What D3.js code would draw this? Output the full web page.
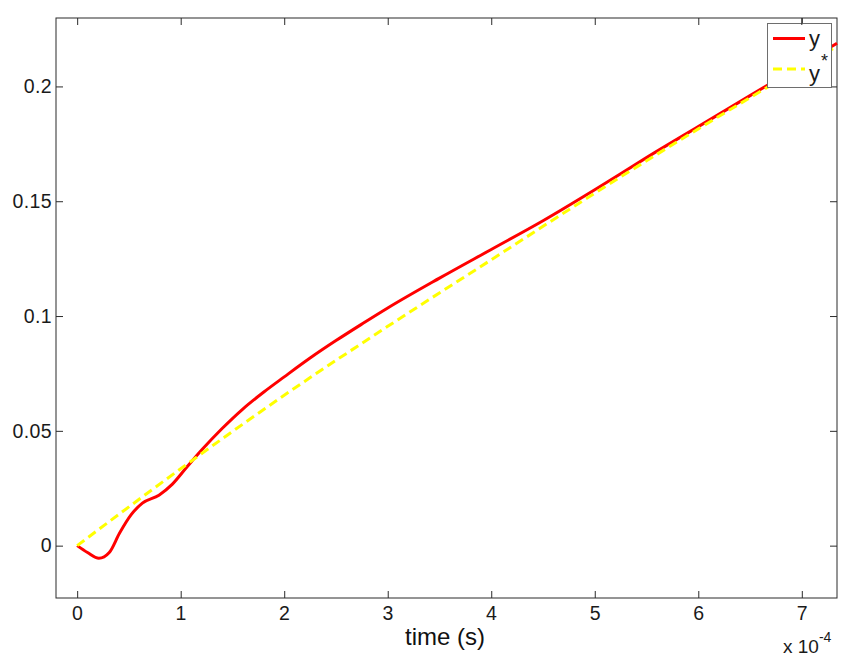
<!DOCTYPE html>
<html><head><meta charset="utf-8">
<script src="https://cdn.jsdelivr.net/npm/d3@7"></script>
<style>body{margin:0;background:#fff;} svg{display:block;font-family:"Liberation Sans",Arial,sans-serif;}</style>
</head><body>
<svg id="c" width="863" height="663"></svg>
<script>
// time in units of 1e-4 s
const redT = [0, 0.1, 0.21, 0.31, 0.41, 0.52, 0.63, 0.79, 0.92, 1.05, 1.2, 1.4, 1.6, 1.8, 2.0, 2.25, 2.5, 2.75, 3.0, 3.5, 4.0, 4.5, 5.0, 5.5, 6.0, 6.5, 7.0, 7.34];
const redY = [0, -0.003, -0.0055, -0.003, 0.0055, 0.0134, 0.0185, 0.022, 0.0268, 0.0337, 0.0415, 0.051, 0.0595, 0.0668, 0.0735, 0.0817, 0.0893, 0.0965, 0.1035, 0.1165, 0.129, 0.1415, 0.155, 0.169, 0.1825, 0.196, 0.2095, 0.2188];
const refT = [0, 1, 2, 3, 4, 5, 6, 7, 7.34];
const refY = [0, 0.0335, 0.0655, 0.0955, 0.1245, 0.1535, 0.1815, 0.2085, 0.2175];
const xTicks = [0, 1, 2, 3, 4, 5, 6, 7];
const yTicks = [0, 0.05, 0.1, 0.15, 0.2];
const yTickLabels = ["0", "0.05", "0.1", "0.15", "0.2"];
const seriesNames = ["y", "y"];

const svg = d3.select("#c");
const L = 56, R = 837, T = 18, B = 598;
const x = d3.scaleLinear().domain([-0.2045, 7.34]).range([L, R]);
const y = d3.scaleLinear().domain([-0.0228, 0.2298]).range([B, T]);
const axisCol = "#2b2b2b";
const ff = '"Liberation Sans",Arial,sans-serif';

// frame
svg.append("rect").attr("x", L).attr("y", T).attr("width", R - L).attr("height", B - T)
  .attr("fill", "none").attr("stroke", axisCol).attr("stroke-width", 1);

const tl = 7;
const gxb = svg.append("g").attr("transform", `translate(0,${B})`)
  .call(d3.axisBottom(x).tickValues(xTicks).tickSize(-tl).tickPadding(12).tickFormat(d3.format("d")));
const gxt = svg.append("g").attr("transform", `translate(0,${T})`)
  .call(d3.axisTop(x).tickValues(xTicks).tickSize(-tl).tickFormat(""));
const gyl = svg.append("g").attr("transform", `translate(${L},0)`)
  .call(d3.axisLeft(y).tickValues(yTicks).tickSize(-tl).tickPadding(4).tickFormat((d, i) => yTickLabels[i]));
const gyr = svg.append("g").attr("transform", `translate(${R},0)`)
  .call(d3.axisRight(y).tickValues(yTicks).tickSize(-tl).tickFormat(""));
[gxb, gxt, gyl, gyr].forEach(g => {
  g.select(".domain").remove();
  g.selectAll(".tick line").attr("stroke", axisCol);
  g.selectAll("text").attr("fill", "#1a1a1a").style("font-size", "19.5px")
   .style("letter-spacing", "0.4px").style("font-family", ff);
});
gxb.selectAll("text").attr("dy", "0.71em").attr("y", 8);

const line = d3.line().x(d => x(d[0])).y(d => y(d[1])).curve(d3.curveMonotoneX);
const plot = svg.append("g");
plot.append("path").datum(redT.map((t, i) => [t, redY[i]]))
  .attr("d", line).attr("fill", "none").attr("stroke", "#ff0000").attr("stroke-width", 3);
plot.append("path").datum(refT.map((t, i) => [t, refY[i]]))
  .attr("d", line).attr("fill", "none").attr("stroke", "#ffff00").attr("stroke-width", 3)
  .attr("stroke-dasharray", "9,5");

// labels
svg.append("text").attr("x", 445).attr("y", 645).attr("text-anchor", "middle")
  .style("font-size", "24px").attr("fill", "#111").text("time (s)");
const ex = svg.append("text").attr("x", 783).attr("y", 653).style("font-size", "19px").attr("fill", "#1a1a1a");
ex.append("tspan").text("x 10");
ex.append("tspan").attr("dy", -11).style("font-size", "14px").text("-4");

// legend
const lg = svg.append("g");
lg.append("rect").attr("x", 767.5).attr("y", 23.5).attr("width", 64).attr("height", 64)
  .attr("fill", "#fff").attr("stroke", "#6e6e6e").attr("stroke-width", 1);
lg.append("line").attr("x1", 773).attr("x2", 805).attr("y1", 38.5).attr("y2", 38.5)
  .attr("stroke", "#ff0000").attr("stroke-width", 3);
lg.append("line").attr("x1", 773).attr("x2", 805).attr("y1", 69).attr("y2", 69)
  .attr("stroke", "#ffff00").attr("stroke-width", 3).attr("stroke-dasharray", "9,5");
lg.append("text").attr("x", 809).attr("y", 46).style("font-size", "22px").attr("fill", "#1a1a1a").text(seriesNames[0]);
const t2 = lg.append("text").attr("x", 809).attr("y", 81).style("font-size", "22px").attr("fill", "#1a1a1a");
t2.append("tspan").text(seriesNames[1]);
t2.append("tspan").attr("dy", -14).attr("dx", 1).style("font-size", "18px").text("*");
// top tick over legend
svg.append("line").attr("x1", x(7)).attr("x2", x(7)).attr("y1", T).attr("y2", T + tl).attr("stroke", axisCol);
</script>
</body></html>
